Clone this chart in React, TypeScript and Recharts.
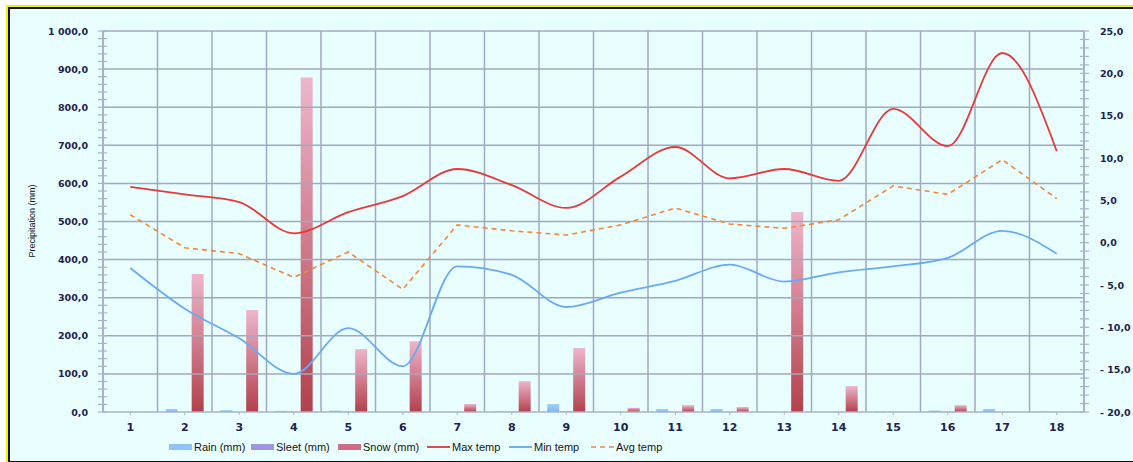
import React from 'react';
import { ComposedChart, Bar, Line, XAxis, YAxis, ReferenceLine } from 'recharts';

const categories = ['1','2','3','4','5','6','7','8','9','10','11','12','13','14','15','16','17','18'];
const rain = [0, 8, 5, 3, 4, 0, 0, 2, 21, 0, 8, 8, 0, 0, 2, 4, 8, 1];
const sleet = [0, 0, 0, 1, 1, 0, 0, 1, 2, 0, 0, 0, 0, 0, 0, 1, 0, 0];
const snow = [0, 362, 268, 878, 165, 186, 21, 81, 168, 11, 18, 13, 525, 68, 0, 18, 0, 0];
const maxTemp = [6.6, 5.7, 4.8, 1.1, 3.6, 5.5, 8.7, 6.8, 4.1, 7.8, 11.3, 7.6, 8.7, 7.3, 15.8, 11.4, 22.4, 10.8];
const minTemp = [-3.0, -7.8, -11.3, -15.5, -10.1, -14.6, -2.8, -3.8, -7.6, -5.9, -4.5, -2.6, -4.6, -3.5, -2.8, -1.8, 1.4, -1.3];
const avgTemp = [3.3, -0.6, -1.3, -4.1, -1.1, -5.5, 2.1, 1.4, 0.9, 2.1, 4.1, 2.2, 1.7, 2.7, 6.7, 5.7, 9.8, 5.2];

const leftTicks = Array.from({ length: 51 }, (_, i) => i * 20);
const rightTicks = Array.from({ length: 46 }, (_, i) => i - 20);
const gridValues = [100, 200, 300, 400, 500, 600, 700, 800, 900, 1000];

const data = categories.map((c, i) => ({
  name: c,
  rain: rain[i],
  sleet: sleet[i],
  snow: snow[i],
  maxTemp: maxTemp[i],
  minTemp: minTemp[i],
  avgTemp: avgTemp[i],
}));

const AXIS = '#A7B3CA';
const GRID = '#A0AABF';
const LABEL = '#1E2250';
const FONT = '"DejaVu Sans", Verdana, sans-serif';

const fmtLeft = (v: number) => {
  const s = v.toFixed(1).replace('.', ',');
  if (v >= 1000) {
    const [ip, dp] = s.split(',');
    return ip.slice(0, ip.length - 3) + ' ' + ip.slice(ip.length - 3) + ',' + dp;
  }
  return s;
};
const fmtRight = (v: number) => {
  if (v < 0) return '- ' + Math.abs(v).toFixed(1).replace('.', ',');
  return v.toFixed(1).replace('.', ',');
};

const LeftTick = (props: any) => {
  const { x, y, payload } = props;
  const v = payload.value;
  const major = v % 100 === 0;
  return (
    <g>
      <line x1={x - 5} x2={x + 4} y1={y} y2={y} stroke={AXIS} strokeWidth={1.2} />
      {major && (
        <text x={x - 15} y={y} dy={3.5} textAnchor="end" fontSize={9.5} fontWeight="bold" fill={LABEL} fontFamily={FONT}>
          {fmtLeft(v)}
        </text>
      )}
    </g>
  );
};

const RightTick = (props: any) => {
  const { x, y, payload } = props;
  const v = payload.value;
  const major = v % 5 === 0;
  return (
    <g>
      <line x1={x - 4} x2={x + 5} y1={y} y2={y} stroke={AXIS} strokeWidth={1.2} />
      {major && (
        <text x={x + 16} y={y} dy={3.5} textAnchor="start" fontSize={9.5} fontWeight="bold" fill={LABEL} fontFamily={FONT}>
          {fmtRight(v)}
        </text>
      )}
    </g>
  );
};

const legendItems = [
  { label: 'Rain (mm)', type: 'rect', color: '#8EC5F6', left: 169 },
  { label: 'Sleet (mm)', type: 'rect', color: '#9C97DE', left: 251 },
  { label: 'Snow (mm)', type: 'rect', color: '#CD6E82', left: 338 },
  { label: 'Max temp', type: 'line', color: '#E8464C', left: 427 },
  { label: 'Min temp', type: 'line', color: '#72AEF2', left: 509 },
  { label: 'Avg temp', type: 'dash', color: '#F0A07A', left: 591 },
];

export default function App() {
  return (
    <div style={{ position: 'absolute', left: 0, top: 0, width: 1133, height: 462, overflow: 'hidden' }}>
      <div
        style={{
          position: 'absolute',
          left: 6,
          top: 5,
          width: 1160,
          height: 460,
          border: '2px solid #F5F000',
          boxSizing: 'border-box',
        }}
      >
        <div
          style={{
            position: 'absolute',
            inset: 0,
            border: '2px solid #111',
            background: '#E9FEFE',
          }}
        />
      </div>
      <div
        style={{
          position: 'absolute',
          left: 24,
          top: 221,
          transform: 'translate(-50%, -50%) rotate(-90deg)',
          fontFamily: '"Liberation Sans Narrow", "Liberation Sans", Arial, sans-serif',
          fontSize: 9,
          color: '#111',
          whiteSpace: 'nowrap',
          marginLeft: 8,
        }}
      >
        Precipitation (mm)
      </div>
      <div style={{ position: 'absolute', left: 0, top: 0 }}>
        <ComposedChart
          width={1133}
          height={462}
          data={data}
          margin={{ top: 31, right: 0, bottom: 30, left: 43 }}
          barCategoryGap="15%"
          barGap={1}
        >
          <defs>
            <linearGradient id="snowGrad" x1="0" y1="0" x2="0" y2="1">
              <stop offset="0%" stopColor="#EDB6CC" />
              <stop offset="100%" stopColor="#B2414C" />
            </linearGradient>
            <linearGradient id="rainGrad" x1="0" y1="0" x2="0" y2="1">
              <stop offset="0%" stopColor="#A6D2FA" />
              <stop offset="100%" stopColor="#7AB6F0" />
            </linearGradient>
            <linearGradient id="sleetGrad" x1="0" y1="0" x2="0" y2="1">
              <stop offset="0%" stopColor="#B2AEEA" />
              <stop offset="100%" stopColor="#8782D2" />
            </linearGradient>
          </defs>
          <XAxis
            dataKey="name"
            xAxisId="x"
            axisLine={{ stroke: AXIS, strokeWidth: 1.5 }}
            tickLine={{ stroke: AXIS }}
            tickSize={3}
            tickMargin={8}
            interval={0}
            height={20}
            tick={{ fontSize: 11, fontWeight: 'bold', fill: LABEL, fontFamily: FONT }}
          />
          <YAxis
            yAxisId="left"
            orientation="left"
            width={60}
            domain={[0, 1000]}
            ticks={leftTicks}
            interval={0}
            tickSize={0}
            tickMargin={0}
            axisLine={{ stroke: AXIS, strokeWidth: 2 }}
            tickLine={false}
            tick={<LeftTick />}
            allowDataOverflow
          />
          <YAxis
            yAxisId="right"
            orientation="right"
            width={49}
            domain={[-20, 25]}
            ticks={rightTicks}
            interval={0}
            tickSize={0}
            tickMargin={0}
            axisLine={{ stroke: AXIS, strokeWidth: 2 }}
            tickLine={false}
            tick={<RightTick />}
            allowDataOverflow
          />
          {gridValues.map((v) => (
            <ReferenceLine key={'h' + v} yAxisId="left" xAxisId="x" y={v} stroke={GRID} strokeWidth={1.5} />
          ))}
          {categories.slice(1).map((c) => (
            <ReferenceLine key={'v' + c} yAxisId="left" xAxisId="x" x={c} position="start" stroke={GRID} strokeWidth={1.5} />
          ))}
          <Bar dataKey="rain" name="Rain (mm)" xAxisId="x" yAxisId="left" fill="url(#rainGrad)" isAnimationActive={false} />
          <Bar dataKey="sleet" name="Sleet (mm)" xAxisId="x" yAxisId="left" fill="url(#sleetGrad)" isAnimationActive={false} />
          <Bar dataKey="snow" name="Snow (mm)" xAxisId="x" yAxisId="left" fill="url(#snowGrad)" isAnimationActive={false} />
          <Line type="monotone" dataKey="maxTemp" name="Max temp" xAxisId="x" yAxisId="right" stroke="#E8393A" strokeWidth={1.8} dot={false} isAnimationActive={false} />
          <Line type="monotone" dataKey="minTemp" name="Min temp" xAxisId="x" yAxisId="right" stroke="#6AAAF2" strokeWidth={1.8} dot={false} isAnimationActive={false} />
          <Line type="linear" dataKey="avgTemp" name="Avg temp" xAxisId="x" yAxisId="right" stroke="#F0883C" strokeWidth={1.6} strokeDasharray="5 4" dot={false} isAnimationActive={false} />
        </ComposedChart>
      </div>
      {legendItems.map((it) => (
        <div
          key={it.label}
          style={{
            position: 'absolute',
            left: it.left,
            top: 439,
            height: 16,
            display: 'flex',
            alignItems: 'center',
            fontFamily: '"Liberation Sans", Arial, sans-serif',
            fontSize: 11,
            color: '#151515',
            whiteSpace: 'nowrap',
          }}
        >
          {it.type === 'rect' && <span style={{ display: 'inline-block', width: 23, height: 6, background: it.color, marginRight: 2 }} />}
          {it.type === 'line' && <span style={{ display: 'inline-block', width: 23, height: 2, background: it.color, marginRight: 2 }} />}
          {it.type === 'dash' && (
            <span
              style={{
                display: 'inline-block',
                width: 23,
                height: 2,
                background: 'repeating-linear-gradient(90deg, ' + it.color + ' 0 5px, transparent 5px 9px)',
                marginRight: 2,
              }}
            />
          )}
          <span>{it.label}</span>
        </div>
      ))}
    </div>
  );
}
